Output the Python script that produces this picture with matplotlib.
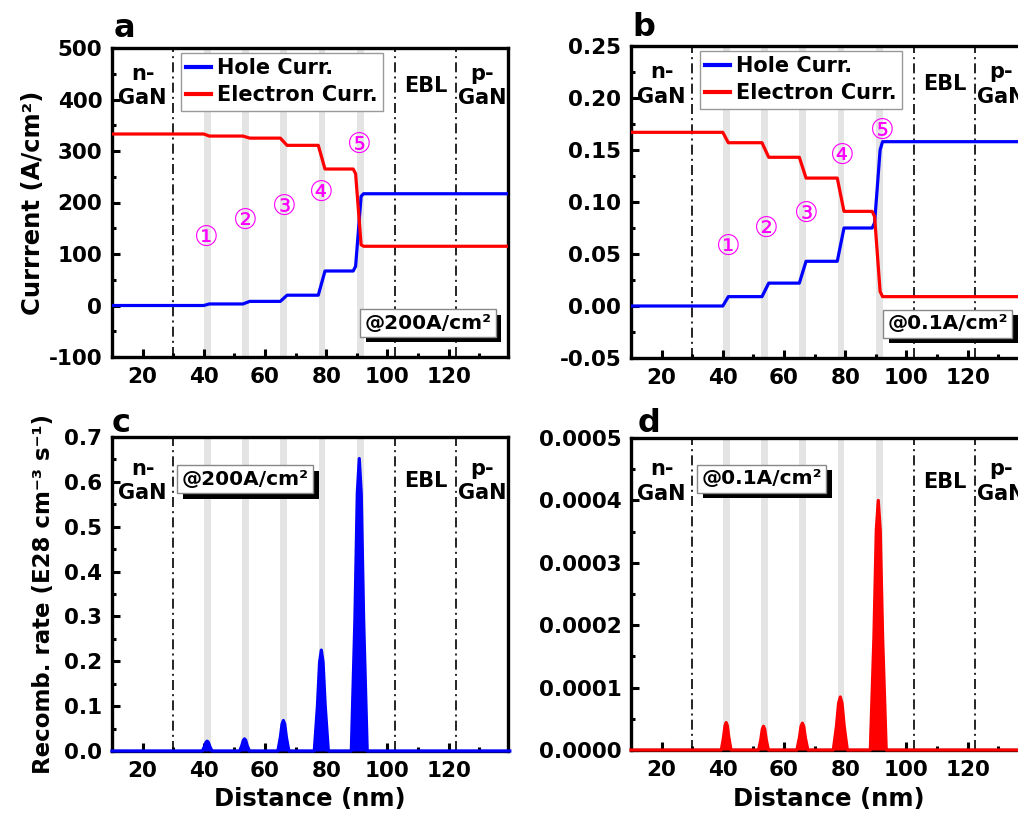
import matplotlib
matplotlib.use("Agg")
import matplotlib.pyplot as plt
import matplotlib.patheffects as pe
from matplotlib.ticker import MultipleLocator, FormatStrFormatter

plt.rcParams['font.family'] = ['DejaVu Sans']
plt.rcParams['font.weight'] = 'bold'
plt.rcParams['axes.labelweight'] = 'bold'
plt.rcParams['axes.unicode_minus'] = False

# quantum well positions (nm) and layer borders
qw_left = [40.1, 52.5, 65.0, 77.5, 90.0]
qw_width = 2.2
borders = [30, 102.5, 122.5]

# current density profiles (breakpoints)
cur_x = [10, 40.0, 41.8, 52.8, 55.0, 65.0, 67.2, 77.4, 79.6, 88.8, 89.6, 91.4, 92.2, 140]
elec_200 = [333, 333, 329, 329, 325, 325, 311, 311, 265, 265, 256, 118, 115, 115]
hole_200 = [0, 0, 3, 3, 8, 8, 20, 20, 67, 67, 76, 212, 217, 217]
elec_01 = [0.167, 0.167, 0.157, 0.157, 0.143, 0.143, 0.123, 0.123, 0.091, 0.091, 0.086, 0.014, 0.009, 0.009]
hole_01 = [0, 0, 0.009, 0.009, 0.022, 0.022, 0.043, 0.043, 0.075, 0.075, 0.080, 0.150, 0.158, 0.158]

# recombination rate profiles
rec_x = [10,
         39.5, 40.22, 40.7, 41.1, 41.5, 41.98, 42.7,
         51.7, 52.42, 52.9, 53.3, 53.7, 54.18, 54.9,
         64.2, 65.01, 65.55, 66.0, 66.45, 66.99, 67.8,
         76.1, 77.13, 77.83, 78.4, 78.97, 79.67, 80.7,
         88.2, 89.37, 90.15, 90.8, 91.45, 92.23, 93.4,
         140]
rec_200 = [0,
           0, 0.0099, 0.0194, 0.022, 0.0194, 0.0099, 0,
           0, 0.0122, 0.0238, 0.027, 0.0238, 0.0122, 0,
           0, 0.0306, 0.0598, 0.068, 0.0598, 0.0306, 0,
           0, 0.101, 0.198, 0.225, 0.198, 0.101, 0,
           0, 0.293, 0.574, 0.652, 0.574, 0.293, 0,
           0]
rec_01 = [0,
          0, 1.98e-5, 3.87e-5, 4.4e-5, 3.87e-5, 1.98e-5, 0,
          0, 1.71e-5, 3.34e-5, 3.8e-5, 3.34e-5, 1.71e-5, 0,
          0, 1.94e-5, 3.78e-5, 4.3e-5, 3.78e-5, 1.94e-5, 0,
          0, 3.8e-5, 7.5e-5, 8.5e-5, 7.5e-5, 3.8e-5, 0,
          0, 1.8e-4, 3.52e-4, 4.0e-4, 3.52e-4, 1.8e-4, 0,
          0]

# circled well labels
circ_labels = ['①', '②', '③', '④', '⑤']
circ_x_a = [41.0, 53.6, 66.4, 78.5, 90.9]
circ_y_a = [131, 165, 192, 219, 311]
circ_x_b = [41.8, 54.4, 67.2, 79.2, 92.1]
circ_y_b = [0.057, 0.074, 0.089, 0.1445, 0.168]

W, H = 1018, 823
fig = plt.figure(figsize=(W / 100, H / 100), dpi=100)


def px_axes(left, top, right, bottom):
    return fig.add_axes([left / W, 1 - bottom / H, (right - left) / W, (bottom - top) / H])


ax_a = px_axes(112, 48, 508, 357)
ax_b = px_axes(631, 46, 1027, 358)
ax_c = px_axes(112, 437, 508, 751)
ax_d = px_axes(631, 438, 1027, 750)


def decorate(ax, ylim, ymaj, ymin, fmt, txt_y):
    ax.set_xlim(10, 139.4)
    ax.set_ylim(*ylim)
    for q in qw_left:
        ax.axvspan(q, q + qw_width, color='#e4e4e4', lw=0, zorder=0)
    for b in borders:
        ax.axvline(b, color='k', lw=1.2, ls=(0, (6, 2.5, 1.2, 2.5)), zorder=1)
    ax.xaxis.set_major_locator(MultipleLocator(20))
    ax.xaxis.set_minor_locator(MultipleLocator(10))
    ax.yaxis.set_major_locator(MultipleLocator(ymaj))
    ax.yaxis.set_minor_locator(MultipleLocator(ymin))
    ax.yaxis.set_major_formatter(FormatStrFormatter(fmt))
    ax.tick_params(which='both', direction='in', top=False, right=False, labelsize=15.5, width=2.2)
    ax.tick_params(which='major', length=6, pad=7)
    ax.tick_params(which='minor', length=3)
    for s in ax.spines.values():
        s.set_linewidth(2.4)
    ax.text(20, txt_y, 'n-\nGaN', transform=ax.get_xaxis_transform(), ha='center', va='center',
            fontsize=15, linespacing=1.3)
    ax.text(112.6, txt_y, 'EBL', transform=ax.get_xaxis_transform(), ha='center', va='center',
            fontsize=15)
    ax.text(131.0, txt_y, 'p-\nGaN', transform=ax.get_xaxis_transform(), ha='center', va='center',
            fontsize=15, linespacing=1.3)


def tag(ax, x, y, s):
    t = ax.text(x, y, s, transform=ax.transAxes, ha='center', va='center', fontsize=14.5,
                bbox=dict(boxstyle='square,pad=0.22', fc='white', ec='#888888', lw=1))
    t.get_bbox_patch().set_path_effects([
        pe.SimplePatchShadow(offset=(4, -4), shadow_rgbFace='k', alpha=1), pe.Normal()])


# panel a
decorate(ax_a, (-100, 500), 100, 50, '%d', 0.877)
ax_a.plot(cur_x, hole_200, color='#0000ff', lw=2.3, label='Hole Curr.', zorder=3)
ax_a.plot(cur_x, elec_200, color='#ff0000', lw=2.3, label='Electron Curr.', zorder=3)
ax_a.set_ylabel('Currrent (A/cm²)', fontsize=17.5)
ax_a.yaxis.set_label_coords(-0.17, 0.5)
for s, x, y in zip(circ_labels, circ_x_a, circ_y_a):
    ax_a.text(x, y, s, color='#ff00ff', fontsize=20, fontweight='normal', ha='center', va='center')
tag(ax_a, 0.798, 0.11, '@200A/cm²')

# panel b
decorate(ax_b, (-0.05, 0.25), 0.05, 0.025, '%.2f', 0.877)
ax_b.plot(cur_x, hole_01, color='#0000ff', lw=2.3, label='Hole Curr.', zorder=3)
ax_b.plot(cur_x, elec_01, color='#ff0000', lw=2.3, label='Electron Curr.', zorder=3)
for s, x, y in zip(circ_labels, circ_x_b, circ_y_b):
    ax_b.text(x, y, s, color='#ff00ff', fontsize=20, fontweight='normal', ha='center', va='center')
tag(ax_b, 0.80, 0.11, '@0.1A/cm²')

for ax in [ax_a, ax_b]:
    leg = ax.legend(loc='upper left', bbox_to_anchor=(0.173, 0.984), borderaxespad=0,
                    fontsize=15, handlelength=1.2, handletextpad=0.3, labelspacing=0.35,
                    borderpad=0.25, fancybox=False, framealpha=1)
    leg.get_frame().set_edgecolor('#999999')
    leg.get_frame().set_linewidth(1)
    leg.set_zorder(5)
    for ln in leg.get_lines():
        ln.set_linewidth(3)

# panel c
decorate(ax_c, (0, 0.7), 0.1, 0.05, '%.1f', 0.86)
ax_c.fill_between(rec_x, rec_200, color='#0000ff', lw=0, zorder=3)
ax_c.plot(rec_x, rec_200, color='#0000ff', lw=2.3, zorder=3, clip_on=False)
ax_c.set_ylabel('Recomb. rate (E28 cm⁻³ s⁻¹)', fontsize=16.5)
ax_c.yaxis.set_label_coords(-0.145, 0.5)
ax_c.set_xlabel('Distance (nm)', fontsize=17.5)
ax_c.xaxis.set_label_coords(0.5, -0.115)
tag(ax_c, 0.336, 0.865, '@200A/cm²')

# panel d
decorate(ax_d, (0, 0.0005), 0.0001, 0.00005, '%.4f', 0.86)
ax_d.fill_between(rec_x, rec_01, color='#ff0000', lw=0, zorder=3)
ax_d.plot(rec_x, rec_01, color='#ff0000', lw=2.3, zorder=3, clip_on=False)
ax_d.set_xlabel('Distance (nm)', fontsize=17.5)
ax_d.xaxis.set_label_coords(0.5, -0.118)
tag(ax_d, 0.33, 0.869, '@0.1A/cm²')

# panel letters (baseline just above the top spine)
for ax, s, dx, dy in [(ax_a, 'a', 2, 11), (ax_b, 'b', 1, 10), (ax_c, 'c', 0, 5), (ax_d, 'd', 7, 6)]:
    ax.annotate(s, xy=(0, 1), xycoords='axes fraction', xytext=(dx, dy), textcoords='offset pixels',
                fontsize=23, ha='left', va='baseline')

fig.savefig('out.png', dpi=100, facecolor='white')
